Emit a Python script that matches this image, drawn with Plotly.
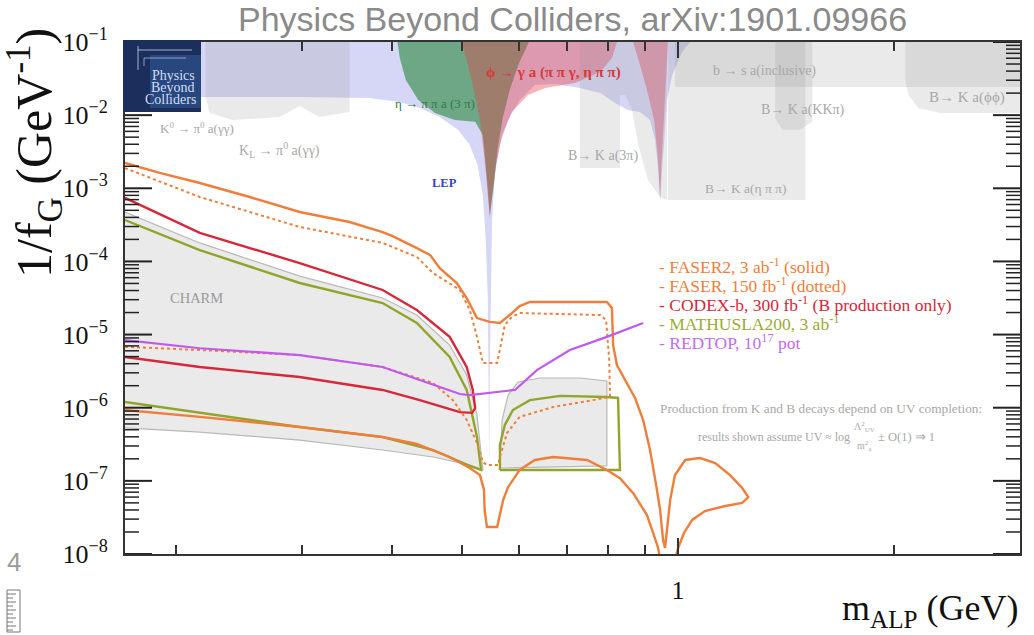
import numpy as np
import plotly.graph_objects as go

SERIF = "Liberation Serif"
SANS = "Liberation Sans"

# ---------------- detector sensitivity contours ----------------
# ALP mass m_ALP in GeV, coupling 1/f_G in GeV^-1

faser2_m = [0.170, 0.190, 0.216, 0.2535, 0.2975, 0.349, 0.388, 0.400, 0.433, 0.452,
            0.466, 0.492, 0.508, 0.525, 0.547, 0.565, 0.583, 0.602, 0.622, 0.685,
            0.779, 0.796, 0.809, 0.812, 0.822, 0.844, 0.871, 0.894, 0.914, 0.932,
            0.944, 0.953, 0.959, 0.965, 0.975, 0.990, 1.023, 1.073, 1.126, 1.181,
            1.228, 1.252, 1.228, 1.163, 1.090, 1.046, 1.019, 1.000, 0.990, 0.944,
            0.938, 0.923, 0.905, 0.866, 0.830, 0.796, 0.747, 0.670, 0.632, 0.602,
            0.580, 0.571, 0.563, 0.560, 0.542, 0.538, 0.537, 0.530, 0.513, 0.481,
            0.433, 0.388, 0.2975, 0.216, 0.170]
faser2_g = [2.22e-3, 1.62e-3, 1.18e-3, 7.6e-4, 4.74e-4, 3.46e-4, 2.52e-4, 2.23e-4, 1.52e-4, 1.22e-4,
            8.1e-5, 5.07e-5, 3.16e-5, 1.68e-5, 1.49e-5, 1.44e-5, 1.85e-5, 2.45e-5, 2.79e-5, 2.79e-5,
            2.79e-5, 2.79e-5, 2.31e-5, 7.2e-6, 3.84e-6, 2.39e-6, 1.36e-6, 6.8e-7, 2.64e-7, 8.8e-8,
            4.0e-8, 1.55e-8, 1.21e-8, 2.13e-8, 5.5e-8, 1.20e-7, 1.93e-7, 2.05e-7, 1.75e-7, 1.20e-7,
            7.98e-8, 6.0e-8, 4.98e-8, 4.53e-8, 3.87e-8, 2.92e-8, 1.94e-8, 1.21e-8, 8.3e-9, 8.3e-9,
            1.21e-8, 1.94e-8, 3.41e-8, 6.8e-8, 1.09e-7, 1.41e-7, 1.93e-7, 2.12e-7, 1.93e-7, 1.41e-7,
            8.2e-8, 5.5e-8, 2.92e-8, 2.34e-8, 2.34e-8, 4.0e-8, 7.5e-8, 1.20e-7, 1.50e-7, 2.12e-7,
            3.19e-7, 3.97e-7, 5.45e-7, 7.5e-7, 9.3e-7]

faser_m = [0.170, 0.216, 0.2975, 0.388, 0.433, 0.456, 0.497, 0.513, 0.525, 0.535,
           0.560, 0.565, 0.574, 0.587, 0.602, 0.779, 0.794, 0.802, 0.804, 0.761,
           0.670, 0.602, 0.578, 0.565, 0.562, 0.542, 0.535, 0.525, 0.508, 0.486,
           0.456, 0.388, 0.2975, 0.216, 0.170]
faser_g = [1.89e-3, 7.6e-4, 2.96e-4, 1.79e-4, 1.15e-4, 6.95e-5, 4.07e-5, 2.17e-5, 9.3e-6, 4.08e-6,
           4.08e-6, 6.5e-6, 1.35e-5, 1.74e-5, 1.97e-5, 1.85e-5, 1.58e-5, 4.49e-6, 1.40e-6, 1.27e-6,
           1.02e-6, 7.5e-7, 4.5e-7, 2.12e-7, 1.65e-7, 1.65e-7, 1.81e-7, 3.29e-7, 6.8e-7, 1.27e-6,
           2.18e-6, 3.60e-6, 5.25e-6, 6.15e-6, 6.8e-6]

codex_m = [0.170, 0.216, 0.2975, 0.388, 0.433, 0.481, 0.508, 0.518, 0.522, 0.517,
           0.497, 0.437, 0.388, 0.2975, 0.216, 0.170]
codex_g = [7.4e-4, 2.45e-4, 9.5e-5, 4.07e-5, 2.17e-5, 9.3e-6, 3.60e-6, 1.75e-6, 9.9e-7, 8.5e-7,
           8.7e-7, 1.27e-6, 1.75e-6, 2.63e-6, 3.60e-6, 4.93e-6]

mathusla_lo_m = [0.170, 0.216, 0.2975, 0.388, 0.433, 0.481, 0.508, 0.525, 0.532, 0.513,
                 0.456, 0.388, 0.2975, 0.216, 0.170]
mathusla_lo_g = [3.68e-4, 1.43e-4, 5.07e-5, 2.70e-5, 1.44e-5, 4.93e-6, 1.75e-6, 3.97e-7, 1.41e-7, 1.60e-7,
                 2.64e-7, 3.97e-7, 5.45e-7, 8.5e-7, 1.20e-6]
mathusla_hi_m = [0.565, 0.565, 0.574, 0.589, 0.622, 0.685, 0.796, 0.825, 0.830, 0.565]
mathusla_hi_g = [1.41e-7, 3.09e-7, 5.8e-7, 9.3e-7, 1.27e-6, 1.45e-6, 1.40e-6, 1.36e-6, 1.41e-7, 1.41e-7]

redtop_m = [0.170, 0.216, 0.2975, 0.388, 0.437, 0.497, 0.513, 0.593, 0.636, 0.707, 0.796, 0.894]
redtop_g = [8.4e-6, 6.5e-6, 5.25e-6, 3.60e-6, 2.39e-6, 1.54e-6, 1.49e-6, 1.75e-6, 3.27e-6, 6.15e-6,
            9.3e-6, 1.44e-5]

# ---------------- excluded regions ----------------
charm_lo_m = [0.170, 0.216, 0.2975, 0.388, 0.433, 0.481, 0.508, 0.525, 0.535, 0.513,
              0.456, 0.388, 0.2975, 0.216, 0.170]
charm_lo_g = [4.74e-4, 1.79e-4, 6.3e-5, 3.16e-5, 1.85e-5, 7.2e-6, 2.80e-6, 7.9e-7, 1.41e-7, 1.65e-7,
              2.12e-7, 2.64e-7, 3.61e-7, 4.65e-7, 5.3e-7]
charm_hi_m = [0.565, 0.569, 0.580, 0.599, 0.643, 0.730, 0.796, 0.796, 0.565]
charm_hi_g = [1.50e-7, 6.8e-7, 1.49e-6, 2.25e-6, 2.55e-6, 2.55e-6, 2.32e-6, 1.60e-7, 1.50e-7]

lep_m = [0.170, 1.039, 1.013, 0.981, 0.965, 0.956, 0.950, 0.944, 0.938, 0.929,
         0.914, 0.885, 0.852, 0.817, 0.779, 0.730, 0.674, 0.632, 0.602, 0.580,
         0.565, 0.556, 0.551, 0.549, 0.547, 0.546, 0.5453, 0.5436, 0.540, 0.535,
         0.526, 0.513, 0.494, 0.466, 0.437, 0.410, 0.372, 0.2975, 0.170]
lep_g = [1e-1, 1e-1, 7.3e-2, 3.54e-2, 1.61e-2, 4.57e-3, 1.52e-3, 6.9e-4, 1.78e-3, 4.57e-3,
         8.6e-3, 1.10e-2, 1.17e-2, 1.47e-2, 2.0e-2, 2.35e-2, 2.67e-2, 2.58e-2, 1.61e-2, 8.6e-3,
         3.91e-3, 1.52e-3, 3.68e-4, 2.97e-5, 3.27e-6, 1.41e-7, 3.27e-6, 2.97e-5, 1.96e-4, 8.1e-4,
         2.08e-3, 3.91e-3, 6.3e-3, 9.4e-3, 1.25e-2, 1.51e-2, 1.71e-2, 1.77e-2, 1.77e-2]

eta_m = [0.407, 0.620, 0.600, 0.583, 0.570, 0.561, 0.554, 0.547, 0.542, 0.535,
         0.522, 0.489, 0.459, 0.435, 0.418, 0.410]
eta_g = [1e-1, 1e-1, 5.0e-2, 2.2e-2, 9.1e-3, 3.56e-3, 1.11e-3, 4.31e-4, 1.38e-3, 5.35e-3,
         8.1e-3, 8.6e-3, 1.07e-2, 1.61e-2, 3.02e-2, 6.04e-2]

phi_m = [0.500, 0.822, 0.809, 0.779, 0.719, 0.653, 0.618, 0.587, 0.569, 0.558,
         0.551, 0.547, 0.5436, 0.538, 0.530, 0.518, 0.507]
phi_g = [1e-1, 1e-1, 6.04e-2, 3.89e-2, 2.75e-2, 2.35e-2, 1.88e-2, 1.10e-2, 5.35e-3, 2.08e-3,
         8.1e-4, 3.92e-4, 8.1e-4, 2.44e-3, 8.6e-3, 2.58e-2, 6.04e-2]

phi_etap_m = [0.866, 0.968, 0.962, 0.953, 0.947, 0.944, 0.938, 0.926, 0.905, 0.885]
phi_etap_g = [1e-1, 1e-1, 3.02e-2, 6.3e-3, 1.78e-3, 6.9e-4, 2.44e-3, 8.6e-3, 2.21e-2, 4.85e-2]

kaon_m = [0.220, 0.349, 0.349, 0.317, 0.2975, 0.279, 0.240, 0.223, 0.220]
kaon_g = [1e-1, 1e-1, 1.10e-2, 9.4e-3, 1.33e-2, 9.4e-3, 8.6e-3, 1.07e-2, 1.77e-2]

bk3pi_m = [0.730, 0.965, 0.965, 0.944, 0.908, 0.880, 0.863, 0.844, 0.830, 0.830, 0.730]
bk3pi_g = [1e-1, 1e-1, 6.9e-4, 7.6e-4, 1.30e-3, 3.91e-3, 1.17e-2, 1.88e-2, 1.88e-2, 1.89e-3, 1.89e-3]

bsincl_m = [0.990, 2.99, 2.99, 0.990]
bsincl_g = [1e-1, 1e-1, 2.43e-2, 2.43e-2]

bketa_m = [0.968, 1.503, 1.503, 0.968]
bketa_g = [1e-1, 1e-1, 6.9e-4, 6.9e-4]

bkkk_m = [1.365, 1.537, 1.537, 1.479, 1.396, 1.365]
bkkk_g = [1e-1, 1e-1, 8.1e-3, 6.3e-3, 6.3e-3, 9.1e-3]

bkphi_m = [2.071, 2.99, 2.99, 2.317, 2.159, 2.091, 2.071]
bkphi_g = [1e-1, 1e-1, 1.07e-2, 1.07e-2, 1.25e-2, 1.88e-2, 3.02e-2]

# axis ticks
y_major = [1e-1, 1e-2, 1e-3, 1e-4, 1e-5, 1e-6, 1e-7, 1e-8]
y_major_text = ["10<sup>−1</sup>", "10<sup>−2</sup>", "10<sup>−3</sup>", "10<sup>−4</sup>",
                "10<sup>−5</sup>", "10<sup>−6</sup>", "10<sup>−7</sup>", "10<sup>−8</sup>"]
y_minor = [k * 10.0 ** e for e in range(-8, -1) for k in range(2, 10)]
x_major = [1]
x_major_text = ["1"]
x_minor = [0.2, 0.3, 0.4, 0.5, 0.6, 0.7, 0.8, 0.9, 2, 3]

ORANGE = "#EF7E3A"
RED = "#D6283A"
OLIVE = "#92A52A"
PURPLE = "#C259EE"

fig = go.Figure()


def region(m, g, color, line_color=None, line_width=0):
    fig.add_trace(go.Scatter(
        x=m, y=g, mode="lines", fill="toself", fillcolor=color,
        line=dict(color=line_color or "rgba(0,0,0,0)", width=line_width),
        hoverinfo="skip", showlegend=False))


def contour(m, g, color, width=2.4, dash="solid"):
    fig.add_trace(go.Scatter(
        x=m, y=g, mode="lines", line=dict(color=color, width=width, dash=dash),
        hoverinfo="skip", showlegend=False))


# existing limits in the upper part
region(lep_m, lep_g, "rgba(120,120,225,0.30)")
region(eta_m, eta_g, "rgba(40,135,60,0.60)")
region(phi_m, phi_g, "rgba(232,62,72,0.40)")
region(phi_etap_m, phi_etap_g, "rgba(232,62,72,0.40)")
for bm, bg in [(kaon_m, kaon_g), (bk3pi_m, bk3pi_g), (bsincl_m, bsincl_g),
               (bketa_m, bketa_g), (bkkk_m, bkkk_g), (bkphi_m, bkphi_g)]:
    region(bm, bg, "rgba(150,150,150,0.20)")

# CHARM beam dump exclusion
region(charm_lo_m, charm_lo_g, "rgba(230,230,230,0.85)", "#B8B8B8", 1.2)
region(charm_hi_m, charm_hi_g, "rgba(230,230,230,0.85)", "#B8B8B8", 1.2)

# projected sensitivities
contour(mathusla_lo_m, mathusla_lo_g, OLIVE)
contour(mathusla_hi_m, mathusla_hi_g, OLIVE)
contour(codex_m, codex_g, RED)
contour(faser_m, faser_g, ORANGE, width=2.0, dash="dot")
contour(faser2_m, faser2_g, ORANGE)
contour(redtop_m, redtop_g, PURPLE, width=2.2)

# ---------------- layout ----------------
L, R, T, B = 125, 1020, 42, 554
W, H = 1034, 635


def px(xp):
    return (xp - L) / (R - L)


def py(yp):
    return (B - yp) / (B - T)


# inward y-axis tick marks on both frame sides, placed on the log y scale
# against a hidden 0..1 overlay x-axis
def tick_marks(vals, length_px):
    frac = length_px / (R - L)
    xs, ys = [], []
    for v in vals:
        xs += [0, frac, None, 1 - frac, 1, None]
        ys += [v, v, None, v, v, None]
    return xs, ys


for vals, tl, tw in [(y_minor, 14, 1.5), (y_major, 27, 2)]:
    tx, ty = tick_marks(vals, tl)
    fig.add_trace(go.Scatter(x=tx, y=ty, xaxis="x2", yaxis="y", mode="lines",
                             line=dict(color="#222", width=tw), hoverinfo="skip",
                             showlegend=False))

fig.update_layout(
    width=W, height=H,
    margin=dict(l=L, r=W - R, t=T, b=H - B),
    paper_bgcolor="white", plot_bgcolor="white",
    showlegend=False,
    font=dict(family=SERIF, color="#111"),
    xaxis2=dict(overlaying="x", range=[0, 1], visible=False, fixedrange=True),
)

fig.layout.xaxis.update(
    type="log", range=[np.log10(0.17), np.log10(2.99)],
    showgrid=False, zeroline=False,
    showline=True, linecolor="#333", linewidth=2, mirror="allticks",
    ticks="inside", ticklen=16, tickwidth=2, tickcolor="#333",
    tickvals=x_major, ticktext=x_major_text,
    tickfont=dict(family=SERIF, size=26, color="#111"),
    ticklabelstandoff=12,
    minor=dict(ticks="inside", ticklen=9, tickwidth=1.5, tickcolor="#333",
               tickvals=x_minor, showgrid=False),
)
fig.update_yaxes(
    type="log", range=[-8, -1],
    showgrid=False, zeroline=False,
    showline=True, linecolor="#333", linewidth=2, mirror=True,
    ticks="", tickvals=y_major, ticktext=y_major_text,
    tickfont=dict(family=SERIF, size=26, color="#111"),
    ticklabelstandoff=10,
)

ann = []


def text(xp, yp, s, size=12, color="#A8A8A8", family=SERIF, xanchor="center", angle=0):
    ann.append(dict(x=px(xp), y=py(yp), xref="paper", yref="paper", text=s,
                    showarrow=False, xanchor=xanchor, yanchor="middle", textangle=angle,
                    font=dict(family=family, size=size, color=color)))


# title and axis titles
text(572, 19, "Physics Beyond Colliders, arXiv:1901.09966", size=34, color="#8A8A8A", family=SANS)
text(34, 153, "1/f<sub>G</sub> (GeV<sup>-1</sup>)", size=50, color="#111", angle=-90)
text(1021, 610, "m<sub>ALP</sub> (GeV)", size=36, color="#111", xanchor="right")

# region labels
text(197, 128, "K<sup>0</sup> → π<sup>0</sup> a(γγ)", size=13)
text(279, 150, "K<sub>L</sub> → π<sup>0</sup> a(γγ)", size=14)
text(435, 103, "η → π π a (3 π)", size=13, color="#2E7A46")
text(553, 72, "<b>ϕ → γ a (π π γ, η π π)</b>", size=15, color="#D53A3A")
text(444, 183, "<b>LEP</b>", size=12.5, color="#3A44C8")
text(764, 71, "b → s a(inclusive)", size=14)
text(803, 110, "B→ K a(KKπ)", size=14)
text(967, 97, "B→ K a(ϕϕ)", size=15)
text(603, 156, "B→ K a(3π)", size=14)
text(745, 188, "B→ K a(η π π)", size=13.5)
text(196, 298, "CHARM", size=14.5, color="#9A9A9A")

# legend block
legend_rows = [
    (266, "- FASER2, 3 ab<sup>-1</sup> (solid)", ORANGE),
    (285, "- FASER, 150 fb<sup>-1</sup> (dotted)", ORANGE),
    (304, "- CODEX-b, 300 fb<sup>-1</sup> (B production only)", RED),
    (323, "- MATHUSLA200, 3 ab<sup>-1</sup>", "#9AAA36"),
    (342, "- REDTOP, 10<sup>17</sup> pot", "#C36BEF"),
]
for yy, s, c in legend_rows:
    text(657, yy, s, size=17.5, color=c, xanchor="left")

# note on UV completion
text(658, 408, "Production from K and B decays depend on UV completion:", size=13.3, xanchor="left")
text(852, 437, "results shown assume UV ≈ log", size=12, xanchor="right")
text(864, 427, "Λ<sup>2</sup><sub>UV</sub>", size=10)
text(864, 446, "m<sup>2</sup><sub>a</sub>", size=10)
text(876, 437, "± O(1) ⇒ 1", size=12.5, xanchor="left")

# page number
text(14, 562, "4", size=26, color="#9A9A9A", family=SANS)

# logo text
text(197, 75, "Physics", size=14, color="#D0DDF5", xanchor="right")
text(197, 87, "Beyond", size=14, color="#D0DDF5", xanchor="right")
text(198, 99, "Colliders", size=14, color="#D0DDF5", xanchor="right")

fig.update_layout(annotations=ann)

shapes = [
    # logo panel
    dict(type="rect", xref="paper", yref="paper", x0=px(123), x1=px(201), y0=py(112), y1=py(40),
         fillcolor="#1C2E5C", line=dict(width=0), layer="above"),
    dict(type="rect", xref="paper", yref="paper", x0=px(150), x1=px(201), y0=py(108), y1=py(55),
         fillcolor="rgba(70,130,210,0.30)", line=dict(width=0), layer="above"),
    dict(type="line", xref="paper", yref="paper", x0=px(138), x1=px(192), y0=py(50), y1=py(50),
         line=dict(color="rgba(210,225,255,0.75)", width=1), layer="above"),
    dict(type="line", xref="paper", yref="paper", x0=px(138), x1=px(138), y0=py(46), y1=py(70),
         line=dict(color="rgba(210,225,255,0.75)", width=1), layer="above"),
    dict(type="line", xref="paper", yref="paper", x0=px(144), x1=px(186), y0=py(58), y1=py(58),
         line=dict(color="rgba(210,225,255,0.6)", width=1), layer="above"),
    dict(type="line", xref="paper", yref="paper", x0=px(144), x1=px(144), y0=py(58), y1=py(66),
         line=dict(color="rgba(210,225,255,0.6)", width=1), layer="above"),
    # lecture-slide ruler icon
    dict(type="rect", xref="paper", yref="paper", x0=px(7), x1=px(20), y0=py(632), y1=py(590),
         fillcolor="white", line=dict(color="#777", width=1)),
]
for k in range(10):
    yy = 594 + 4 * k
    shapes.append(dict(type="line", xref="paper", yref="paper", x0=px(7), x1=px(13 if k % 2 else 16),
                       y0=py(yy), y1=py(yy), line=dict(color="#777", width=1)))
fig.update_layout(shapes=shapes)

fig.write_html("out.html")
